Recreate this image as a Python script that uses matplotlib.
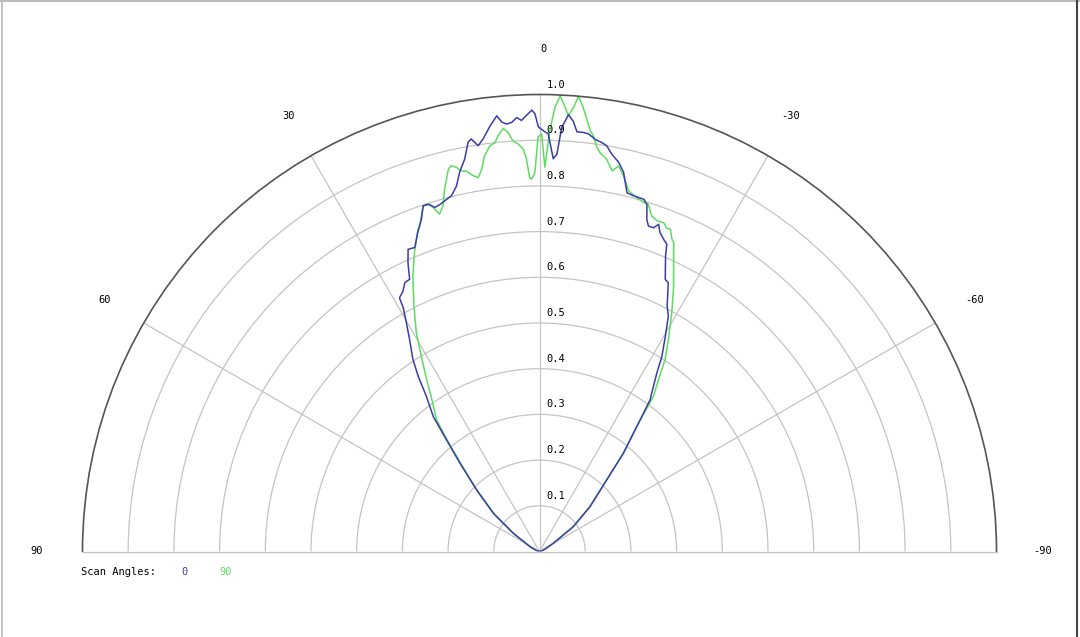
import numpy as np
import matplotlib.pyplot as plt
from matplotlib.lines import Line2D

# scan angle 0 (blue): angle in degrees (positive = left), normalised intensity
blue_angle = [-90, -75, -65, -59.3, -53.7, -48.4, -43.2, -40.5, -37.9, -36.1, -35.3,
              -33.3, -32.1, -30.3, -28.7, -27.5, -25.6, -24.8, -23.1, -22.5, -21.7,
              -20.7, -20.0, -19.4, -18.5, -17.9, -17.2, -16.5, -14.8, -13.7, -12.5,
              -11.5, -10.3, -9.4, -8.7, -7.7, -6.7, -6.0, -5.1, -4.5, -3.8, -3.0,
              -2.5, -2.0, -1.2, -0.5, 0.15, 0.6, 1.0, 1.7, 2.4, 3.0, 3.7, 4.4, 5.0,
              5.6, 6.6, 7.8, 8.6, 9.4, 9.9, 10.8, 11.9, 12.8, 13.9, 15.1, 16.0, 16.9,
              17.8, 18.6, 19.6, 20.9, 22.3, 23.5, 24.5, 25.5, 26.6, 27.7, 28.9, 29.2,
              30.2, 31.5, 33.4, 34.7, 36.1, 38.2, 39.8, 42.0, 45.6, 50.4, 55.2, 63.2,
              75, 90]
blue_r = [0.0, 0.005, 0.015, 0.035, 0.092, 0.148, 0.215, 0.283, 0.347, 0.411, 0.425,
          0.468, 0.504, 0.546, 0.587, 0.605, 0.652, 0.656, 0.703, 0.728, 0.735,
          0.746, 0.762, 0.751, 0.751, 0.764, 0.795, 0.804, 0.805, 0.808, 0.850,
          0.869, 0.884, 0.900, 0.905, 0.910, 0.920, 0.922, 0.922, 0.944, 0.958, 0.929,
          0.870, 0.860, 0.914, 0.921, 0.929, 0.958, 0.966, 0.955, 0.944, 0.951, 0.941,
          0.938, 0.943, 0.958, 0.938, 0.911, 0.898, 0.915, 0.909, 0.874, 0.848, 0.820,
          0.802, 0.795, 0.790, 0.787, 0.798, 0.798, 0.771, 0.747, 0.719, 0.721, 0.694,
          0.660, 0.658, 0.643, 0.634, 0.611, 0.579, 0.544, 0.503, 0.466, 0.420, 0.376,
          0.318, 0.260, 0.193, 0.131, 0.070, 0.023, 0.005, 0.0]

# scan angle 90 (green)
green_angle = [-90, -75, -65, -59.3, -53.7, -48.4, -43.2, -40.5, -37.9, -36.3, -34.7,
               -33.2, -31.3, -29.0, -26.8, -24.9, -23.5, -23.0, -22.1, -21.5, -20.7,
               -19.6, -18.5, -17.4, -16.6, -15.4, -13.9, -12.6, -11.6, -10.8, -9.7,
               -8.6, -8.1, -7.4, -6.9, -6.6, -5.6, -4.9, -4.4, -3.8, -3.3, -2.6, -2.0,
               -1.4, -0.8, -0.3, 0.2, 0.7, 1.2, 1.5, 1.9, 2.3, 3.0, 3.7, 4.3, 4.9, 5.7,
               6.2, 7.0, 7.9, 8.6, 9.3, 10.0, 10.9, 11.6, 12.2, 12.9, 13.4, 14.7, 15.6,
               16.5, 17.0, 17.5, 18.6, 20.2, 20.7, 22.7, 24.7, 27.1, 29.4, 31.2, 33.3,
               35.1, 38.0, 39.8, 42.0, 45.6, 50.4, 55.2, 63.2, 75, 90]
green_r = [0.0, 0.005, 0.015, 0.035, 0.090, 0.146, 0.213, 0.280, 0.345, 0.421, 0.457,
           0.502, 0.543, 0.597, 0.651, 0.697, 0.737, 0.742, 0.761, 0.760, 0.769,
           0.768, 0.774, 0.796, 0.797, 0.803, 0.813, 0.842, 0.861, 0.848, 0.871,
           0.883, 0.893, 0.917, 0.927, 0.938, 0.977, 1.0, 0.975, 0.956, 0.974, 0.998,
           0.973, 0.922, 0.841, 0.914, 0.907, 0.829, 0.815, 0.818, 0.859, 0.881, 0.893,
           0.900, 0.920, 0.929, 0.914, 0.900, 0.894, 0.874, 0.846, 0.829, 0.835, 0.848,
           0.850, 0.860, 0.866, 0.860, 0.819, 0.785, 0.770, 0.783, 0.797, 0.798, 0.759,
           0.753, 0.709, 0.663, 0.603, 0.549, 0.499, 0.450, 0.411, 0.366, 0.312, 0.255,
           0.190, 0.128, 0.068, 0.022, 0.005, 0.0]

ring_values = [0.1, 0.2, 0.3, 0.4, 0.5, 0.6, 0.7, 0.8, 0.9, 1.0]
angle_labels = [90, 60, 30, 0, -30, -60, -90]
series_names = ["0", "90"]

blue = "#3c3ca6"
green = "#5fdc5f"
font = dict(family="DejaVu Sans Mono", fontsize=7.5, color="black")

fig = plt.figure(figsize=(10.8, 6.37), dpi=100, facecolor="white")
# square box: the half disc is fitted to its width and centred vertically
ax = fig.add_axes([82.5 / 1080, -143 / 637, 914 / 1080, 914 / 637], projection="polar")
ax.set_theta_zero_location("N")
ax.set_theta_direction(1)
ax.set_thetamin(-90)
ax.set_thetamax(90)
ax.set_ylim(0, 1)

ax.set_xticks(np.radians([-60, -30, 0, 30, 60]))
ax.set_yticks(ring_values[:-1])
ax.set_xticklabels([])
ax.set_yticklabels([])
ax.grid(True, color="#c4c4c4", linewidth=0.9)
ax.tick_params(length=0)

ax.spines["polar"].set_color("#555555")
ax.spines["polar"].set_linewidth(1.2)
for s in ("start", "end"):
    ax.spines[s].set_color("#c4c4c4")
    ax.spines[s].set_linewidth(0.9)
ax.spines["inner"].set_visible(False)

ax.plot(np.radians(green_angle), green_r, color=green, linewidth=1.1)
ax.plot(np.radians(blue_angle), blue_r, color=blue, linewidth=1.1)

for a in angle_labels:
    dx = 4 if a == 0 else 0
    ax.annotate(str(a), xy=(np.radians(a), 1.10), xytext=(dx, 0),
                textcoords="offset pixels", ha="center", va="center",
                annotation_clip=False, **font)

for r in ring_values:
    ax.annotate(f"{r:.1f}", xy=(0, r), xytext=(7, 5), textcoords="offset pixels",
                ha="left", va="bottom", annotation_clip=False, **font)

fig.text(81 / 1080, 1 - 572 / 637, "Scan Angles:", va="center", ha="left", **font)
fig.text(181 / 1080, 1 - 572 / 637, series_names[0], va="center", ha="left",
         family="DejaVu Sans Mono", fontsize=7.5, color=blue)
fig.text(219 / 1080, 1 - 572 / 637, series_names[1], va="center", ha="left",
         family="DejaVu Sans Mono", fontsize=7.5, color=green)

# thin frame around the picture
fig.add_artist(Line2D([0, 1], [0.998, 0.998], transform=fig.transFigure,
                      color="#bbbbbb", linewidth=1.5))
fig.add_artist(Line2D([0.002, 0.002], [0, 1], transform=fig.transFigure,
                      color="#bbbbbb", linewidth=1.2))
fig.add_artist(Line2D([0.9975, 0.9975], [0, 1], transform=fig.transFigure,
                      color="#444444", linewidth=1.5))

fig.savefig("out.png", dpi=100, facecolor="white")
